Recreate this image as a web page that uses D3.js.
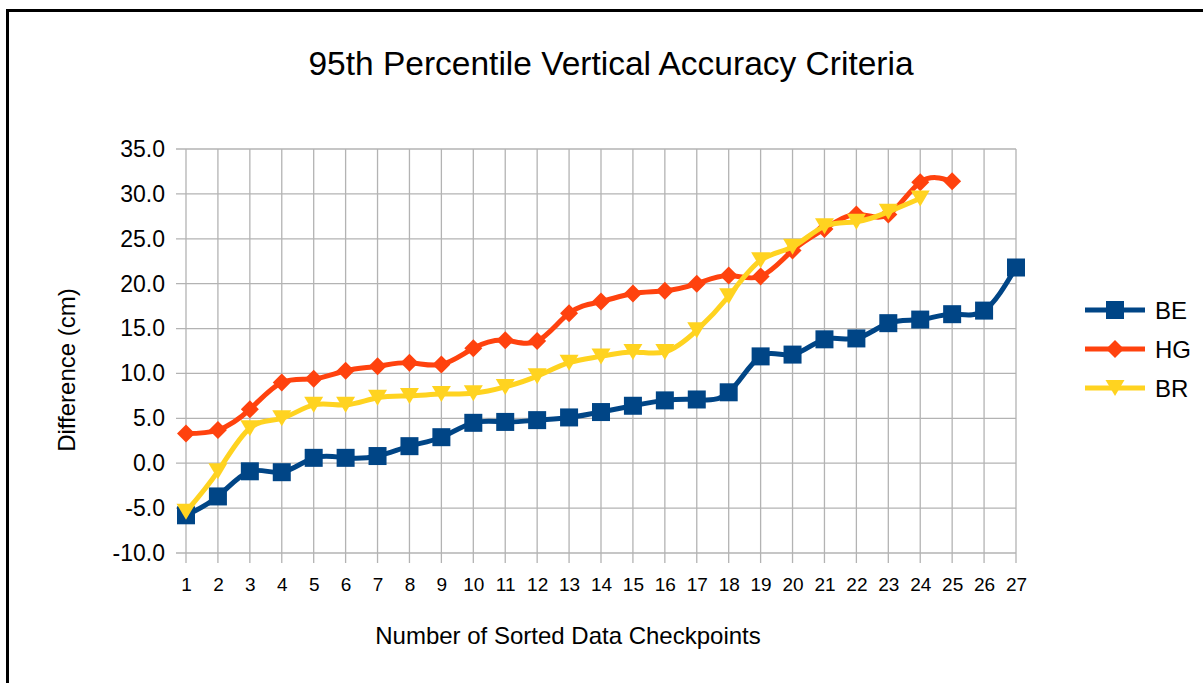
<!DOCTYPE html>
<html>
<head>
<meta charset="utf-8">
<script src="https://cdn.jsdelivr.net/npm/d3@7"></script>
<style>
  html, body { margin: 0; padding: 0; background: #fff; }
  svg { display: block; }
  text { font-family: "Liberation Sans", Arial, sans-serif; fill: #000; }
</style>
</head>
<body>
<svg id="chart" width="1203" height="683"></svg>
<script>
// ---- data ----
const categories = d3.range(1, 28);
const seriesNames = ["BE", "HG", "BR"];
const seriesColors = ["#004586", "#ff420e", "#ffd320"];
const beValues = [-5.8, -3.7, -0.9, -1.0, 0.6, 0.6, 0.8, 1.9, 2.9, 4.5, 4.6, 4.8, 5.1, 5.7, 6.4, 7.0, 7.1, 7.9, 11.9, 12.1, 13.8, 13.9, 15.6, 16.0, 16.6, 17.0, 21.8];
const hgValues = [3.3, 3.7, 6.0, 9.0, 9.4, 10.3, 10.8, 11.2, 11.0, 12.8, 13.7, 13.6, 16.7, 18.0, 18.9, 19.2, 20.0, 20.9, 20.8, 23.7, 26.1, 27.7, 27.7, 31.3, 31.4];
const brValues = [-5.4, -0.9, 3.9, 5.0, 6.5, 6.5, 7.3, 7.5, 7.7, 7.8, 8.5, 9.7, 11.2, 11.9, 12.4, 12.4, 14.8, 18.6, 22.6, 24.1, 26.4, 26.9, 28.0, 29.5];
const yTicks = [-10, -5, 0, 5, 10, 15, 20, 25, 30, 35];
const titleText = "95th Percentile Vertical Accuracy Criteria";
const xTitle = "Number of Sorted Data Checkpoints";
const yTitle = "Difference (cm)";

const series = [beValues, hgValues, brValues].map((vals, i) => ({
  name: seriesNames[i], color: seriesColors[i],
  points: vals.map((v, j) => ({ x: categories[j], y: v }))
}));

// ---- layout ----
const svg = d3.select("#chart");
const L = 186, R = 1016, T = 149, B = 553;
const x = d3.scaleLinear().domain([1, 27]).range([L, R]);
const y = d3.scaleLinear().domain([-10, 35]).range([B, T]);

// frame
svg.append("path").attr("d", "M7.5,683 V10.5 H1203")
  .attr("fill", "none").attr("stroke", "#000").attr("stroke-width", 3);

// title
svg.append("text").attr("x", 611).attr("y", 75).attr("text-anchor", "middle")
  .style("font-size", "33.5px").text(titleText);

const gridColor = "#b3b3b3";
// horizontal grid + y ticks
svg.append("g").selectAll("line").data(yTicks).join("line")
  .attr("x1", L - 10).attr("x2", R).attr("y1", d => y(d)).attr("y2", d => y(d))
  .attr("stroke", gridColor).attr("stroke-width", 1.3);
// vertical grid + x ticks
svg.append("g").selectAll("line").data(categories).join("line")
  .attr("x1", d => x(d)).attr("x2", d => x(d)).attr("y1", T).attr("y2", B + 10)
  .attr("stroke", gridColor).attr("stroke-width", 1.3);

const fmt1 = d => d3.format(".1f")(d).replace("\u2212", "-");

// y labels via axis
const yAxis = d3.axisLeft(y).tickValues(yTicks).tickFormat(fmt1).tickSize(0).tickPadding(21);
const yg = svg.append("g").attr("transform", `translate(${L},0)`).call(yAxis);
yg.select(".domain").remove();
yg.selectAll("text").style("font-size", "23px").style("font-family", "Liberation Sans, Arial, sans-serif").attr("fill", "#000");

// x labels via axis
const xAxis = d3.axisBottom(x).tickValues(categories).tickFormat(d3.format("d")).tickSize(0).tickPadding(25);
const xg = svg.append("g").attr("transform", `translate(0,${B})`).call(xAxis);
xg.select(".domain").remove();
xg.selectAll("text").style("font-size", "19px").style("font-family", "Liberation Sans, Arial, sans-serif").attr("fill", "#000");

// axis titles
svg.append("text").attr("x", 568).attr("y", 644).attr("text-anchor", "middle")
  .style("font-size", "24px").text(xTitle);
svg.append("text").attr("transform", "translate(75,370) rotate(-90)").attr("text-anchor", "middle")
  .style("font-size", "24px").text(yTitle);

// symbols
const sq = 18;
function drawMarker(g, i, cx, cy) {
  if (i === 0) {
    g.append("rect").attr("x", cx - sq / 2).attr("y", cy - sq / 2).attr("width", sq).attr("height", sq)
      .attr("fill", seriesColors[i]);
  } else if (i === 1) {
    const h = 9;
    g.append("path").attr("d", `M${cx},${cy - h} L${cx + h},${cy} L${cx},${cy + h} L${cx - h},${cy} Z`)
      .attr("fill", seriesColors[i]);
  } else {
    const w = 9.5, h = 8;
    g.append("path").attr("d", `M${cx - w},${cy - h} L${cx + w},${cy - h} L${cx},${cy + h} Z`)
      .attr("fill", seriesColors[i]);
  }
}

const line = d3.line().x(d => x(d.x)).y(d => y(d.y)).curve(d3.curveNatural);
series.forEach((s, i) => {
  const g = svg.append("g");
  g.append("path").datum(s.points).attr("d", line)
    .attr("fill", "none").attr("stroke", s.color).attr("stroke-width", 5)
    .attr("stroke-linejoin", "round");
  s.points.forEach(p => drawMarker(g, i, x(p.x), y(p.y)));
});

// legend
const legY = [310, 349, 388];
series.forEach((s, i) => {
  const g = svg.append("g");
  g.append("line").attr("x1", 1085).attr("x2", 1145).attr("y1", legY[i]).attr("y2", legY[i])
    .attr("stroke", s.color).attr("stroke-width", 5);
  drawMarker(g, i, 1115, legY[i]);
  g.append("text").attr("x", 1155).attr("y", legY[i]).attr("dy", "0.36em")
    .style("font-size", "24px").text(s.name);
});
</script>
</body>
</html>
